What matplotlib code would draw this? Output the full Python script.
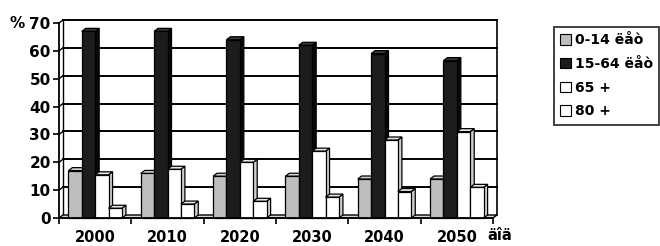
import matplotlib
matplotlib.use("Agg")
import matplotlib.pyplot as plt
from matplotlib.patches import Polygon, Patch
import numpy as np

years = ["2000", "2010", "2020", "2030", "2040", "2050"]
series_names = ["0-14 ëåò", "15-64 ëåò", "65 +", "80 +"]
age_0_14 = [17, 16, 15, 15, 14, 14]
age_15_64 = [67, 67, 64, 62, 59, 56.5]
age_65p = [15.5, 17.5, 20, 24, 28, 31]
age_80p = [3.5, 5, 6, 7.5, 9.5, 11]
y_ticks = [0, 10, 20, 30, 40, 50, 60, 70]

values = [age_0_14, age_15_64, age_65p, age_80p]
front_colors = ["#bebebe", "#1c1c1c", "#ffffff", "#ffffff"]
side_colors = ["#8a8a8a", "#080808", "#cfcfcf", "#cfcfcf"]
top_colors = ["#d2d2d2", "#3a3a3a", "#e6e6e6", "#e6e6e6"]

plt.rcParams['font.family'] = ['DejaVu Sans']
W, H = 660, 246
fig = plt.figure(figsize=(W / 100, H / 100), dpi=100)
fig.patch.set_facecolor("white")
ax_l, ax_r, ax_b, ax_t = 59, 493, 218, 23
ax = fig.add_axes([ax_l / W, 1 - ax_b / H, (ax_r - ax_l) / W, (ax_b - ax_t) / H])
ax.set_xlim(-0.5, len(years) - 0.5)
ax.set_ylim(0, 70)

# 3D depth offsets in data units
px_x = (ax_r - ax_l) / len(years)
px_y = (ax_b - ax_t) / 70
dx = 4 / px_x
dy = 3 / px_y

x = np.arange(len(years))
w = 0.185
lw = 0.9

# back wall grid lines
x0w, x1w = -0.5, len(years) - 0.5
for yv in y_ticks[1:]:
    ax.plot([x0w + dx, x1w + dx], [yv + dy, yv + dy], color="black", lw=1.4, zorder=1, clip_on=False)
    ax.plot([x0w, x0w + dx], [yv, yv + dy], color="black", lw=1.0, zorder=1, clip_on=False)
ax.plot([x1w + dx, x1w + dx], [dy, 70 + dy], color="black", lw=1.2, zorder=1, clip_on=False)
ax.plot([x0w + dx, x0w + dx], [dy, 70 + dy], color="black", lw=1.0, zorder=1, clip_on=False)
# floor
ax.add_patch(Polygon([(x0w, 0), (x0w + dx, dy), (x1w + dx, dy), (x1w, 0)], closed=True,
                     facecolor="#d8d8d8", edgecolor="black", lw=1.0, zorder=1.5, clip_on=False))

for k, vals in enumerate(values):
    pos = x + (k - 1.5) * w
    bars = ax.bar(pos, vals, width=w, color=front_colors[k], edgecolor="black", linewidth=lw,
                  zorder=3 + k * 0.1, clip_on=False)
    for rect in bars:
        bx, bw, bh = rect.get_x(), rect.get_width(), rect.get_height()
        side = Polygon([(bx + bw, 0), (bx + bw + dx, dy), (bx + bw + dx, bh + dy), (bx + bw, bh)],
                       closed=True, facecolor=side_colors[k], edgecolor="black", lw=lw,
                       zorder=3 + k * 0.1 - 0.01, clip_on=False)
        top = Polygon([(bx, bh), (bx + dx, bh + dy), (bx + bw + dx, bh + dy), (bx + bw, bh)],
                      closed=True, facecolor=top_colors[k], edgecolor="black", lw=lw,
                      zorder=3 + k * 0.1 - 0.01, clip_on=False)
        ax.add_patch(side)
        ax.add_patch(top)

for s in ["top", "right"]:
    ax.spines[s].set_visible(False)
ax.spines["left"].set_linewidth(1.3)
ax.spines["bottom"].set_linewidth(1.3)
ax.spines["left"].set_zorder(6)
ax.spines["bottom"].set_zorder(6)

ax.set_yticks(y_ticks)
ax.set_yticklabels([str(v) for v in y_ticks], fontweight="bold", fontsize=11)
ax.tick_params(axis="y", direction="out", length=4, width=1.2, pad=2)
ax.set_xticks(x)
ax.set_xticklabels(years, fontweight="bold", fontsize=10.5)
ax.tick_params(axis="x", which="major", length=0, pad=9)
ax.set_xticks(np.arange(len(years) + 1) - 0.5, minor=True)
ax.tick_params(axis="x", which="minor", direction="out", length=4, width=1.2)
ax.set_facecolor("none")

fig.text(10 / W, 1 - 23 / H, "%", fontweight="bold", fontsize=11, ha="left", va="center")
fig.text(500 / W, 1 - 236 / H, "äîä", fontweight="bold", fontsize=10.5, ha="center", va="center")

handles = [Patch(facecolor=front_colors[k], edgecolor="black", linewidth=0.8) for k in range(4)]
leg = fig.legend(handles, series_names, loc="upper left", bbox_to_anchor=(554 / W, 1 - 27 / H),
                 frameon=True, fancybox=False, prop={"weight": "bold", "size": 10},
                 handlelength=0.8, handleheight=0.8, handletextpad=0.25, labelspacing=0.7,
                 borderpad=0.45, borderaxespad=0)
leg.get_frame().set_edgecolor("black")
leg.get_frame().set_linewidth(1.3)

fig.savefig("out.png", dpi=100, facecolor="white")
